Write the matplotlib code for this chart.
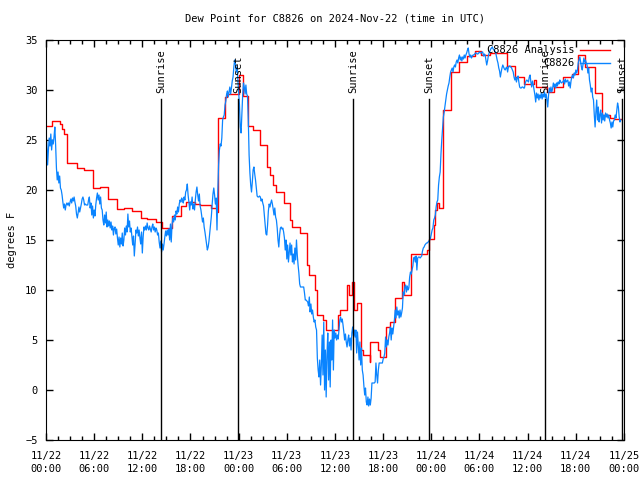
import numpy as np
import matplotlib
matplotlib.use("Agg")
import matplotlib.pyplot as plt
from matplotlib.ticker import MultipleLocator

plt.rcParams['font.family'] = ['DejaVu Sans Mono']

title = "Dew Point for C8826 on 2024-Nov-22 (time in UTC)"

# x tick labels, one every 6 hours starting 11/22 00:00
tick_labels = ["11/22\n00:00", "11/22\n06:00", "11/22\n12:00", "11/22\n18:00",
               "11/23\n00:00", "11/23\n06:00", "11/23\n12:00", "11/23\n18:00",
               "11/24\n00:00", "11/24\n06:00", "11/24\n12:00", "11/24\n18:00",
               "11/25\n00:00"]

# sunrise / sunset times, hours after 11/22 00:00 UTC
sun_events = ["Sunrise", "Sunset", "Sunrise", "Sunset", "Sunrise", "Sunset"]
sun_hours = [14.32, 23.92, 38.24, 47.71, 62.16, 71.75]

# analysis (hourly-ish steps): start hour of each step and its value
analysis_hours = [0.0, 0.75, 1.7, 2.0, 2.3, 2.65, 3.8, 4.7, 5.8, 6.7, 7.7, 8.8, 9.7,
                  10.7, 11.8, 12.6, 13.7, 14.4, 15.7, 16.8, 17.5, 18.6, 19.2, 20.6,
                  21.3, 21.45, 22.3, 22.5, 24.0, 24.6, 25.2, 25.8, 26.7, 27.5, 27.9,
                  28.3, 28.7, 29.6, 30.4, 30.7, 31.6, 32.5, 32.7, 33.5, 33.7, 34.5,
                  34.9, 36.4, 36.6, 37.5, 37.8, 38.1, 38.4, 38.7, 39.3, 39.5, 40.3,
                  40.4, 41.4, 41.6, 42.4, 42.9, 43.5, 44.4, 44.6, 45.5, 47.4, 47.7,
                  48.3, 48.5, 48.7, 49.0, 49.4, 50.4, 51.4, 52.4, 53.4, 54.2, 55.3,
                  57.4, 58.4, 59.5, 60.8, 61.1, 62.4, 63.3, 64.4, 65.5, 66.3, 67.1,
                  68.4, 69.3, 70.2, 70.7, 71.6]
analysis_dewpt = [26.4, 26.9, 26.6, 26.1, 25.6, 22.7, 22.2, 22.0, 20.2, 20.3, 19.1, 18.1, 18.2,
                  17.9, 17.2, 17.1, 16.8, 16.2, 17.4, 18.4, 18.8, 18.6, 18.5, 18.2,
                  17.8, 27.2, 29.3, 29.6, 31.5, 29.4, 26.4, 26.0, 24.5, 22.3, 21.5,
                  20.5, 19.8, 18.7, 17.0, 16.3, 15.7, 12.5, 11.5, 10.0, 7.5, 7.0,
                  6.0, 7.5, 8.0, 10.5, 9.5, 10.8, 8.0, 8.7, 4.0, 3.5, 2.8,
                  4.8, 4.0, 3.3, 6.3, 6.8, 9.2, 10.8, 9.5, 13.6, 14.0, 15.1,
                  16.5, 18.0, 18.7, 18.2, 28.0, 31.8, 32.8, 33.4, 33.9, 33.5, 33.7,
                  32.4, 31.3, 30.6, 31.0, 30.3, 29.8, 30.3, 31.3, 31.6, 33.5, 32.3,
                  29.7, 27.5, 27.2, 27.1, 27.1]

# station observations, one every 6 minutes from 11/22 00:00
obs_step_minutes = 6
obs_dewpt = [
    23.5, 24.8, 22.5, 24.0, 25.2, 24.4, 25.6, 24.0, 25.0, 24.6,
    25.3, 26.3, 24.5, 22.2, 21.0, 21.8, 20.7, 21.4, 20.2, 20.0,
    19.5, 18.8, 18.2, 18.6, 18.0, 18.5, 18.7, 18.5, 18.7, 18.4,
    18.8, 19.1, 18.7, 19.2, 18.9, 19.3, 18.8, 18.4, 17.6, 17.2,
    17.7, 18.3, 17.8, 18.2, 18.6, 19.1, 19.3, 19.0, 18.5, 18.6,
    18.5, 18.5, 18.5, 19.0, 19.3, 18.2, 18.7, 17.5, 18.4, 17.2,
    18.0, 17.4, 18.5, 19.2, 19.7, 19.0, 19.5, 18.6, 19.3, 18.2,
    18.0, 17.0, 16.5, 17.5, 16.7, 17.8, 16.3, 17.0, 16.4, 16.9,
    16.2, 16.8, 16.0, 16.4, 15.5, 16.2, 16.3, 15.6, 16.1, 15.2,
    14.5, 15.3, 14.3, 15.2, 14.6, 15.7, 14.4, 15.0, 16.2, 15.5,
    16.4, 15.8, 17.6, 16.3, 16.9, 15.8, 16.2, 15.3, 14.5, 15.4,
    13.4, 14.6, 16.0, 15.7, 16.3, 15.4, 16.0, 15.2, 14.6, 15.8,
    13.7, 15.3, 16.3, 16.0, 16.4, 16.0, 16.7, 16.2, 16.0, 16.4,
    16.1, 15.8, 16.3, 16.6, 16.0, 16.3, 15.8, 16.2, 16.0, 15.5,
    15.7, 14.8, 14.2, 14.9, 13.8, 14.6, 14.0, 14.6, 15.3, 15.9,
    15.4, 16.0, 15.5, 16.1, 15.0, 16.6, 14.8, 16.5, 17.2, 16.8,
    17.5, 17.0, 17.9, 17.6, 18.3, 17.8, 18.6, 19.0, 18.8, 19.2,
    19.0, 18.7, 19.3, 19.0, 19.8, 20.0, 20.6, 19.5, 18.8, 18.0,
    18.8, 18.5, 19.3, 18.1, 18.6, 18.0, 19.0, 19.8, 20.3, 19.5,
    18.9, 19.6, 18.4, 18.0, 17.4, 16.8, 17.2, 16.3, 15.8, 15.2,
    14.6, 14.0, 14.3, 14.9, 15.7, 16.5, 17.4, 18.6, 19.6, 20.2,
    19.5, 18.6, 19.2, 16.0, 19.8, 22.5, 24.0, 24.6, 24.4, 25.2,
    27.0, 27.3, 27.5, 28.5, 28.9, 29.6, 29.9, 29.3, 29.8, 30.3,
    29.6, 30.2, 30.9, 31.3, 32.3, 33.0, 32.6, 31.8, 32.3, 31.0,
    29.8, 28.5, 26.3, 25.7, 27.5, 29.5, 30.7, 30.3, 29.6, 30.5,
    29.6, 29.4, 27.0, 23.5, 21.7, 20.5, 19.8, 20.8, 22.0, 22.3,
    21.6, 21.0, 20.2, 19.4, 19.3, 19.3, 19.4, 19.3, 18.9, 19.1,
    18.7, 18.4, 17.5, 16.5, 15.6, 15.5, 16.5, 17.9, 18.6, 18.3,
    18.7, 19.0, 18.6, 18.1, 17.5, 18.2, 17.3, 17.0, 16.2, 15.0,
    14.3, 15.5, 16.2, 16.3, 16.1, 16.2, 15.8, 15.2, 14.0, 15.0,
    13.1, 14.5, 12.8, 13.8, 14.7, 13.5, 14.5, 12.8, 13.6, 12.6,
    14.2, 13.0, 15.0, 13.5, 12.5, 11.7, 10.6, 10.3, 10.3, 10.3,
    10.3, 10.3, 9.7, 9.0, 9.0, 8.9, 8.8, 8.4, 9.3, 7.8,
    8.6, 7.6, 8.0, 7.3, 6.8, 7.0, 6.3, 6.0, 3.2, 2.0,
    1.3, 3.0, 0.5, 2.5, 5.5, 1.5, 6.8, 0.0, 4.0, -0.7,
    3.5, 5.7, 1.0, 4.8, 0.3, 5.0, 3.0, 7.0, 2.0, 6.0,
    5.2, 5.7, 5.0, 5.5, 5.1, 6.0, 7.0, 7.3, 6.8, 7.1,
    6.5, 5.8, 5.0, 5.6, 4.8, 4.3, 5.0, 5.5, 4.4, 5.2,
    4.0, 5.7, 6.3, 5.4, 6.0, 5.3, 6.0, 3.7, 5.8, 4.5,
    3.0, 4.8, 2.5, 4.2, 2.0, 1.5, 0.4, -0.5, 0.2, -1.2,
    -1.5, -0.7, -1.6, -0.9, -1.5, -0.8, 0.7, 0.7, 0.7, 0.7,
    0.8, 2.7, 1.5, 0.7, 2.0, 2.7, 2.7, 2.7, 2.7, 2.7,
    3.1, 3.3, 3.7, 5.3, 4.3, 5.0, 4.5, 5.3, 5.7, 6.3,
    5.0, 6.2, 5.6, 6.3, 7.0, 8.0, 7.2, 8.3, 7.5, 7.9,
    7.2, 8.0, 7.3, 7.7, 8.2, 9.8, 9.5, 10.3, 10.5, 9.8,
    10.4, 10.0, 10.2, 11.3, 11.8, 11.6, 12.0, 12.4, 13.2, 13.3,
    12.8, 13.4, 12.0, 13.2, 13.3, 13.3, 13.2, 13.3, 13.4, 13.9,
    14.2, 14.3, 14.5, 14.6, 14.7, 14.7, 14.8, 14.9, 15.0, 15.2,
    15.6, 16.0, 16.2, 17.0, 17.2, 17.5, 18.3, 18.8, 19.0, 20.5,
    21.3, 21.8, 23.6, 25.0, 26.2, 27.3, 27.8, 28.4, 29.0, 29.6,
    30.0, 30.4, 30.7, 31.3, 31.8, 32.0, 32.2, 31.8, 32.3, 32.5,
    32.3, 32.8, 33.0, 32.7, 33.2, 33.5, 33.0, 33.3, 32.9, 33.3,
    33.1, 33.5, 33.2, 33.5, 33.7, 34.0, 34.2, 33.6, 33.3, 33.5,
    33.2, 33.4, 33.5, 33.5, 33.6, 33.7, 33.7, 33.6, 33.6, 33.7,
    33.8, 33.7, 33.7, 33.8, 33.8, 33.4, 33.6, 33.5, 33.0, 32.5,
    32.9, 33.4, 33.7, 33.9, 34.1, 34.2, 34.3, 34.1, 34.0, 33.9,
    33.8, 33.4, 33.0, 32.7, 32.2, 31.9, 31.3, 31.8, 32.2, 32.5,
    32.3, 32.1, 32.0, 32.2, 32.3, 31.8, 32.3, 32.4, 32.4, 32.3,
    32.2, 32.0, 31.8, 31.3, 31.0, 31.3, 30.8, 31.2, 31.4, 30.8,
    30.3, 30.2, 30.2, 30.3, 30.3, 30.2, 30.2, 30.7, 30.9, 31.0,
    30.9, 30.8, 31.3, 31.5, 30.8, 30.3, 30.9, 30.5, 30.0, 29.5,
    28.8, 29.7, 29.2, 29.6, 29.0, 29.5, 29.2, 29.7, 29.1, 29.6,
    29.3, 29.8, 29.2, 29.6, 29.0, 28.3, 29.5, 30.2, 29.8, 30.3,
    29.8, 30.1, 30.7, 30.3, 30.6, 30.2, 30.7, 30.4, 30.8, 30.6,
    31.0, 30.8, 30.7, 30.8, 30.8, 31.0, 30.6, 31.1, 30.8, 30.9,
    31.0, 30.4, 30.8, 30.2, 30.9, 31.3, 31.5, 31.2, 31.7, 31.5,
    32.0, 31.7, 32.0, 32.7, 33.0, 33.3, 32.8, 32.3, 32.0, 32.6,
    33.2, 32.8, 33.0, 32.7, 32.5, 31.7, 32.2, 31.0, 30.5, 29.8,
    30.2, 29.3, 29.0, 27.5, 26.3, 27.8, 29.0, 27.0, 28.3, 26.8,
    27.5, 28.0, 26.7, 27.7, 27.0, 27.5, 26.9, 27.7, 27.3, 27.6,
    27.2, 27.5, 27.0, 26.7, 26.2, 26.8, 26.3, 26.9, 27.0, 27.5,
    27.2, 28.0, 28.7, 28.3, 27.3, 26.8, 27.0,
]
obs_hours = np.arange(len(obs_dewpt)) * obs_step_minutes / 60.0

fig = plt.figure(figsize=(6.4, 4.8), dpi=100)
ax = fig.add_axes([46 / 640, 40 / 480, 578 / 640, 400 / 480])

ax.plot(analysis_hours, analysis_dewpt, color='#ff0000', lw=1.0, drawstyle='steps-post')
ax.plot(obs_hours, obs_dewpt, color='#0a84ff', lw=0.9)

# sunrise / sunset markers
for name, h in zip(sun_events, sun_hours):
    ax.plot([h, h], [-5, 29.1], color='black', lw=1.0)
    ax.text(h, 29.7, name, rotation=90, ha='center', va='bottom', fontsize=7.5)

ax.set_xlim(0, 72)
ax.set_ylim(-5, 35)
ax.set_xticks(range(0, 73, 6))
ax.set_xticklabels(tick_labels, fontsize=7.5, linespacing=1.35)
ax.xaxis.set_minor_locator(MultipleLocator(1.5))
ax.set_yticks(range(-5, 36, 5))
ax.tick_params(axis='y', labelsize=7.5, pad=6)
ax.tick_params(axis='x', which='major', pad=8)
ax.tick_params(which='both', direction='in', top=True, right=True)
ax.tick_params(which='major', length=5, width=1)
ax.tick_params(which='minor', length=3, width=1)
ax.set_ylabel("degrees F", fontsize=7.5, labelpad=6)
ax.set_title(title, fontsize=7.5, pad=13)

# gnuplot-style key in the top right corner
for i, (label, col) in enumerate([("C8826 Analysis", '#ff0000'), ("C8826", '#0a84ff')]):
    y = 0.975 - i * 0.033
    ax.text(0.914, y, label, transform=ax.transAxes, ha='right', va='center', fontsize=7.5)
    ax.plot([0.924, 0.976], [y, y], transform=ax.transAxes, color=col, lw=1.0)

fig.savefig("out.png", dpi=100)
